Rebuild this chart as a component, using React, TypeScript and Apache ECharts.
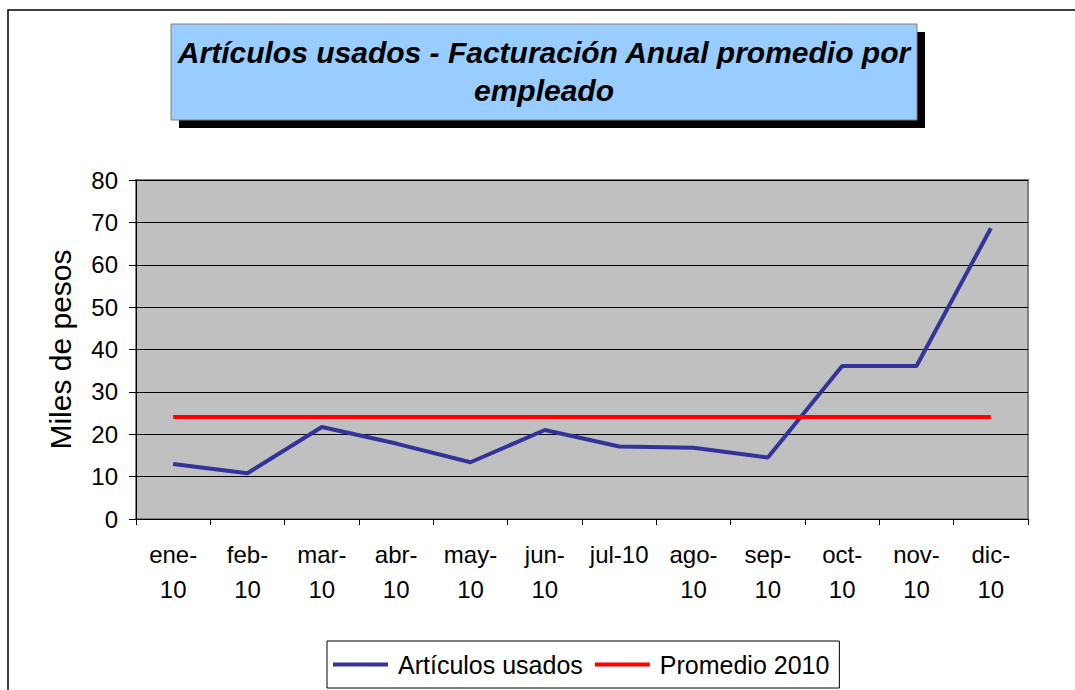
import React, { useEffect, useRef } from "react";
import * as echarts from "echarts";

const categories = ["ene-\n10", "feb-\n10", "mar-\n10", "abr-\n10", "may-\n10", "jun-\n10", "jul-10", "ago-\n10", "sep-\n10", "oct-\n10", "nov-\n10", "dic-\n10"];
const articulosUsados = [13.0, 10.8, 21.7, 17.8, 13.4, 21.0, 17.1, 16.8, 14.5, 36.1, 36.1, 68.6];
const promedio2010 = [24.1, 24.1, 24.1, 24.1, 24.1, 24.1, 24.1, 24.1, 24.1, 24.1, 24.1, 24.1];
const yTicks = { min: 0, max: 80, interval: 10 };
const titleLines = ["Artículos usados - Facturación Anual promedio por", "empleado"];
const yAxisName = "Miles de pesos";
const seriesNames = ["Artículos usados", "Promedio 2010"];

const FONT = "'Liberation Sans', Arial, sans-serif";

export default function App() {
  const ref = useRef<HTMLDivElement>(null);
  useEffect(() => {
    const chart = echarts.init(ref.current!, null, { renderer: "svg" });
    chart.setOption({
      animation: false,
      backgroundColor: "#ffffff",
      textStyle: { fontFamily: FONT },
      graphic: [
        { type: "rect", shape: { x: 8, y: 10, width: 1200, height: 800 }, style: { fill: "none", stroke: "#000", lineWidth: 1.5 }, z: 0 },
        { type: "rect", shape: { x: 179, y: 32, width: 746, height: 96 }, style: { fill: "#000" }, z: 1 },
        { type: "rect", shape: { x: 171, y: 24, width: 746, height: 96 }, style: { fill: "#99CCFF", stroke: "#7f7f7f", lineWidth: 1 }, z: 2 },
        { type: "text", x: 544, y: 52, z: 3, style: { text: titleLines[0], fontFamily: FONT, fontSize: 30, fontWeight: "bold", fontStyle: "italic", fill: "#000", align: "center", verticalAlign: "middle" } },
        { type: "text", x: 544, y: 90, z: 3, style: { text: titleLines[1], fontFamily: FONT, fontSize: 30, fontWeight: "bold", fontStyle: "italic", fill: "#000", align: "center", verticalAlign: "middle" } },
      ],
      grid: {
        left: 136, top: 180, width: 892, height: 339,
        show: true, backgroundColor: "#C0C0C0", borderColor: "#808080", borderWidth: 2,
      },
      legend: {
        left: 327, top: 641,
        data: seriesNames,
        icon: "rect",
        itemWidth: 55, itemHeight: 4, itemGap: 12,
        borderColor: "#000", borderWidth: 1,
        padding: [11, 10, 11, 6],
        textStyle: { fontSize: 25, color: "#000", fontFamily: FONT, padding: [0, 0, 0, 5] },
      },
      xAxis: {
        type: "category",
        data: categories,
        boundaryGap: true,
        axisLine: { lineStyle: { color: "#000", width: 1 } },
        axisTick: { show: true, length: 6, lineStyle: { color: "#000" } },
        axisLabel: { fontSize: 24, color: "#000", lineHeight: 35, margin: 18, interval: 0, fontFamily: FONT },
        splitLine: { show: false },
      },
      yAxis: {
        type: "value",
        min: yTicks.min, max: yTicks.max, interval: yTicks.interval,
        name: yAxisName, nameLocation: "middle", nameRotate: 90, nameGap: 61,
        nameTextStyle: { fontSize: 30, color: "#000", fontFamily: FONT },
        axisLine: { show: true, lineStyle: { color: "#000", width: 1 } },
        axisTick: { show: true, length: 7, lineStyle: { color: "#000" } },
        axisLabel: { fontSize: 24, color: "#000", margin: 18, fontFamily: FONT },
        splitLine: { show: true, lineStyle: { color: "#000", width: 1 } },
      },
      series: [
        { name: seriesNames[0], type: "line", data: articulosUsados, symbol: "none", color: "#333399", lineStyle: { color: "#333399", width: 4 } },
        { name: seriesNames[1], type: "line", data: promedio2010, symbol: "none", color: "#FF0000", lineStyle: { color: "#FF0000", width: 4 } },
      ],
    });
    return () => chart.dispose();
  }, []);
  return <div ref={ref} style={{ position: "fixed", left: 0, top: 0, width: 1075, height: 690 }} />;
}
